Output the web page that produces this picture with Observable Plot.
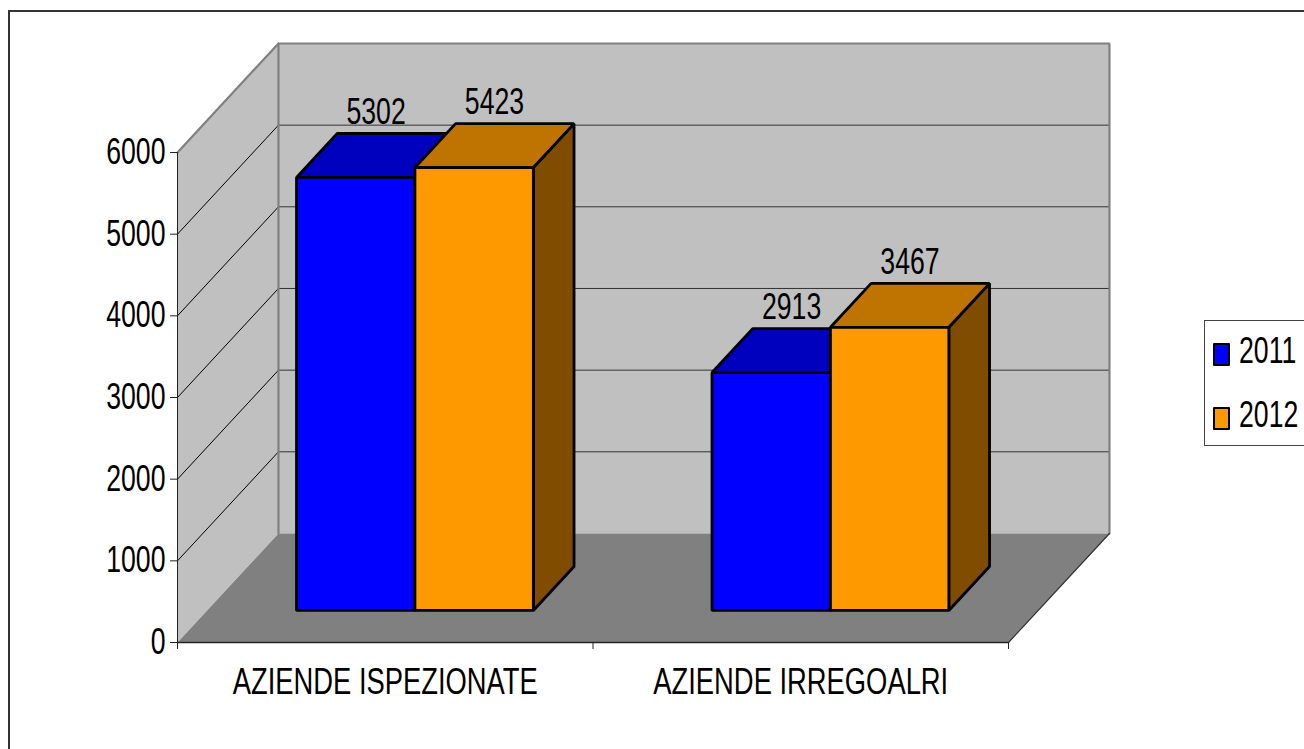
<!DOCTYPE html>
<html>
<head>
<meta charset="utf-8">
<script src="https://cdn.jsdelivr.net/npm/d3@7"></script>
<script src="https://cdn.jsdelivr.net/npm/@observablehq/plot@0.6"></script>
<style>
  html, body { margin: 0; padding: 0; background: #fff; width: 1304px; height: 749px; overflow: hidden; }
  #chart { position: relative; width: 1304px; height: 749px; overflow: hidden; font-family: "Liberation Sans", Arial, sans-serif; color: #000; }
  #chart svg { position: absolute; left: 0; top: 0; background: transparent; }
  #border { position: absolute; left: 8px; top: 10px; width: 1400px; height: 900px; border: 2px solid #333; box-sizing: border-box; }
  #legend { position: absolute; left: 1204px; top: 320px; width: 140px; height: 126px; border: 1px solid #444; box-sizing: border-box; background: #fff; }
  .item { position: absolute; left: 0; height: 40px; }
  .swatch { position: absolute; left: 8px; top: 8px; width: 17px; height: 23px; border: 2.8px solid #000; box-sizing: border-box; border-radius: 1px; }
  .label { position: absolute; left: 34px; top: -4px; font-size: 36px; line-height: 40px; transform: scaleX(0.74); transform-origin: left center; white-space: nowrap; }
</style>
</head>
<body>
<div id="chart"></div>
<script>
const categories = ["AZIENDE ISPEZIONATE", "AZIENDE IRREGOALRI"];
const years = ["2011", "2012"];
const values2011 = [5302, 2913];
const values2012 = [5423, 3467];
const yTicks = [0, 1000, 2000, 3000, 4000, 5000, 6000];
const gridValues = [1000, 2000, 3000, 4000, 5000];

const frontColors = ["#0000ff", "#ff9900"];
const topColors = ["#0000bf", "#bf7300"];
const sideColors = ["#00007f", "#7f4c00"];

// oblique projection of the 3D box into the data coordinates of the scales
const depthX = 0.243, depthY = 1335;
const P = (x, v, d) => ({x: x + d * depthX, y: v + d * depthY});
const barStart = 0.215, barWidth = 0.285, d0 = 0.294, d1 = 0.697;
const yMax = yTicks[yTicks.length - 1], xMax = categories.length;

const poly = (pts, fill, stroke, strokeWidth) =>
  Plot.line(pts, {x: "x", y: "y", curve: "linear-closed", fill, stroke: stroke || "none", strokeWidth: strokeWidth || 0, strokeLinejoin: "miter"});
const seg = (pts, stroke, strokeWidth) =>
  Plot.line(pts, {x: "x", y: "y", stroke, strokeWidth, fill: "none", strokeLinejoin: "miter"});

// walls and floor
const wallColor = "#c0c0c0", floorColor = "#808080", edge = "#808080";
const walls = [
  poly([P(0, 0, 0), P(0, yMax, 0), P(0, yMax, 1), P(0, 0, 1)], wallColor),
  poly([P(0, 0, 1), P(0, yMax, 1), P(xMax, yMax, 1), P(xMax, 0, 1)], wallColor),
  poly([P(0, 0, 0), P(xMax, 0, 0), P(xMax, 0, 1), P(0, 0, 1)], floorColor)
];
const grid = gridValues.flatMap(v => [
  seg([P(0, v, 0), P(0, v, 1)], "#000", 1),
  seg([P(0, v, 1), P(xMax, v, 1)], "#333", 1)
]);
const edges = [
  seg([P(0, yMax, 0), P(0, yMax, 1), P(xMax, yMax, 1), P(xMax, 0, 1)], edge, 2.2),
  seg([P(0, yMax, 1), P(0, 0, 1)], edge, 2.2),
  seg([P(xMax, 0, 0), P(xMax, 0, 1)], "#333", 1.2)
];

// bars
const series = [values2011, values2012];
const bars = categories.flatMap((c, i) => series.flatMap((vals, s) => {
  const x0 = i + barStart + s * barWidth, x1 = x0 + barWidth, v = vals[i], sw = 2.8;
  return [
    poly([P(x1, 0, d0), P(x1, v, d0), P(x1, v, d1), P(x1, 0, d1)], sideColors[s], "#000", sw),
    poly([P(x0, v, d0), P(x1, v, d0), P(x1, v, d1), P(x0, v, d1)], topColors[s], "#000", sw),
    poly([P(x0, 0, d0), P(x1, 0, d0), P(x1, v, d0), P(x0, v, d0)], frontColors[s], "#000", sw)
  ];
}));

// value labels
const labelRows = categories.flatMap((c, i) => series.map((vals, s) => {
  const p = P(i + barStart + (s + 0.5) * barWidth, vals[i], (d0 + d1) / 2);
  return {x: p.x, y: p.y, text: String(vals[i])};
}));

const fs = 36;
const svg = Plot.plot({
  width: 1304, height: 749,
  marginLeft: 177, marginRight: 296, marginTop: 152, marginBottom: 107,
  style: {background: "transparent", fontFamily: '"Liberation Sans", Arial, sans-serif', overflow: "visible"},
  x: {domain: [0, xMax], axis: null},
  y: {domain: [0, yMax], axis: null},
  marks: [
    ...walls,
    ...grid,
    ...edges,
    Plot.ruleY([0], {stroke: "#222", strokeWidth: 1.4}),
    Plot.ruleX([0], {y1: 0, y2: yMax, stroke: "#222", strokeWidth: 1}),
    ...bars,
    Plot.text(labelRows, {x: "x", y: "y", text: "text", dy: -43, fontSize: fs, fill: "#000", lineAnchor: "middle"}),
    Plot.axisY({ticks: yTicks, tickFormat: "d", tickSize: 7, tickPadding: 5, fontSize: fs, stroke: "#222", fill: "#000", label: null}),
    Plot.axisX({ticks: d3.range(xMax + 1), tickFormat: () => "", tickSize: 7, stroke: "#222", label: null}),
    Plot.axisX({ticks: categories.map((c, i) => i + 0.5), tickFormat: t => categories[Math.floor(t)], tickSize: 0, tickPadding: 26, fontSize: fs, fill: "#000", label: null})
  ]
});

const root = document.getElementById("chart");
const border = document.createElement("div");
border.id = "border";
root.appendChild(border);
root.appendChild(svg);

// Narrow all text the same way as in the reference
svg.querySelectorAll("text").forEach(t => {
  if (!t.textContent) return;
  const len = t.getComputedTextLength();
  const squeeze = /[A-Z]/.test(t.textContent) ? 0.76 : 0.74;
  t.setAttribute("textLength", (len * squeeze).toFixed(1));
  t.setAttribute("lengthAdjust", "spacingAndGlyphs");
});

// legend
const legend = document.createElement("div");
legend.id = "legend";
years.forEach((y, i) => {
  const item = document.createElement("div");
  item.className = "item";
  item.style.top = (14 + i * 63.5) + "px";
  const sw = document.createElement("div");
  sw.className = "swatch";
  sw.style.background = frontColors[i];
  const lab = document.createElement("div");
  lab.className = "label";
  lab.textContent = y;
  item.append(sw, lab);
  legend.appendChild(item);
});
root.appendChild(legend);
</script>
</body>
</html>
